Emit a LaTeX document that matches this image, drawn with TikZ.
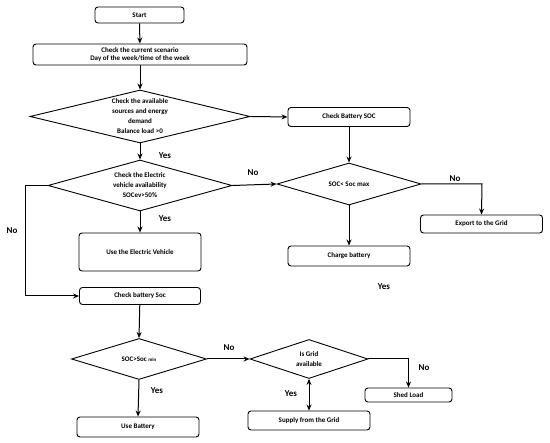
\documentclass[tikz,border=0pt]{standalone}
\usepackage{fontspec}
\setmainfont{Carlito}
\usetikzlibrary{shapes.geometric,arrows.meta}
\begin{document}
\begin{tikzpicture}[x=1pt,y=1pt,
  box/.style={draw,line width=0.9pt,rounded corners=3pt,inner sep=0pt,font=\bfseries\fontsize{7}{8.5}\selectfont,align=center},
  dia/.style={draw,line width=0.9pt,diamond,inner sep=0pt},
  dtext/.style={font=\bfseries\fontsize{7}{10}\selectfont,align=center},
  lbl/.style={font=\bfseries\fontsize{9}{10}\selectfont},
  arr/.style={line width=1pt,-{Stealth[length=6pt,width=5pt]}},
  ln/.style={line width=1pt}]
\useasboundingbox (0,0) rectangle (550,443);
% boxes
\node[box,minimum width=89pt,minimum height=16pt] (start) at (139.5,428) {Start};
\node[box,minimum width=214pt,minimum height=21pt] (scen) at (140,388.5) {Check the current scenario\\Day of the week/time of the week};
\node[dia,minimum width=220pt,minimum height=53pt,label={[dtext]center:Check the available\\sources and energy\\demand\\Balance load >0}] (d1) at (140,326.5) {};
\node[box,minimum width=122pt,minimum height=19pt] (cbs) at (349,326) {Check Battery SOC};
\node[dia,minimum width=144pt,minimum height=42pt,label={[dtext]center:SOC< Soc max}] (dmax) at (349,259) {};
\node[box,minimum width=122pt,minimum height=18pt] (export) at (481.5,219) {Export to the Grid};
\node[box,minimum width=122pt,minimum height=20pt] (charge) at (349,187) {Charge battery};
\node[dia,minimum width=184pt,minimum height=51pt,label={[dtext]center:Check the Electric\\vehicle availability\\SOCev>50\%}] (d2) at (140,257.5) {};
\node[box,minimum width=122pt,minimum height=38pt] (useev) at (140,191) {Use the Electric Vehicle};
\node[box,minimum width=121pt,minimum height=17pt] (cbsoc) at (140,147) {Check battery Soc};
\node[dia,minimum width=135pt,minimum height=41pt,label={[dtext]center:SOC>Soc {\fontsize{5}{6}\selectfont min}}] (d3) at (139,84) {};
\node[dia,minimum width=118pt,minimum height=39pt,label={[dtext]center:Is Grid\\available}] (dgrid) at (309,84) {};
\node[box,minimum width=87pt,minimum height=14pt] (shed) at (408.5,48) {Shed Load};
\node[box,minimum width=122pt,minimum height=19pt] (supply) at (309,22.5) {Supply from the Grid};
\node[box,minimum width=122pt,minimum height=20pt] (usebat) at (138,16) {Use Battery};
% labels
\node[lbl] (y1) at (165,287) {Yes};
\node[lbl] (n1) at (253,270) {No};
\node[lbl] (y2) at (165,224) {Yes};
\node[lbl] (n2) at (12,212) {No};
\node[lbl] (n3) at (455,264) {No};
\node[lbl] (y3) at (384,156) {Yes};
\node[lbl] (n4) at (229,95) {No};
\node[lbl] (n5) at (424,75) {No};
\node[lbl] (y4) at (291,49) {Yes};
\node[lbl] (y5) at (157,52) {Yes};
% connectors
\coordinate (lft) at (25,257.5);
\coordinate (rgt) at (482,259);
\coordinate (sr) at (408.5,84);
\draw[arr] (start) -- (scen);
\draw[arr] (scen) -- (d1);
\draw[arr] (d1.east) -- (cbs.west);
\draw[arr] (cbs) -- (dmax.north);
\draw[arr] (d1.south) -- (d2.north);
\draw[arr] (d2.east) -- (dmax.west);
\draw[arr] (dmax.east) -- (rgt) -- (export.north);
\draw[arr] (dmax.south) -- (charge.north);
\draw[arr] (d2.south) -- (useev.north);
\draw[arr] (d2.west) -- (lft) |- (cbsoc.west);
\draw[arr] (cbsoc) -- (d3.north);
\draw[arr] (d3.east) -- (dgrid.west);
\draw[arr] (dgrid.east) -- (sr) -- (shed.north);
\draw[line width=1pt,{Stealth[length=6pt,width=5pt]}-{Stealth[length=6pt,width=5pt]}] (dgrid.south) -- (supply.north);
\draw[arr] (d3.south) -- (usebat.north);
\end{tikzpicture}
\end{document}
